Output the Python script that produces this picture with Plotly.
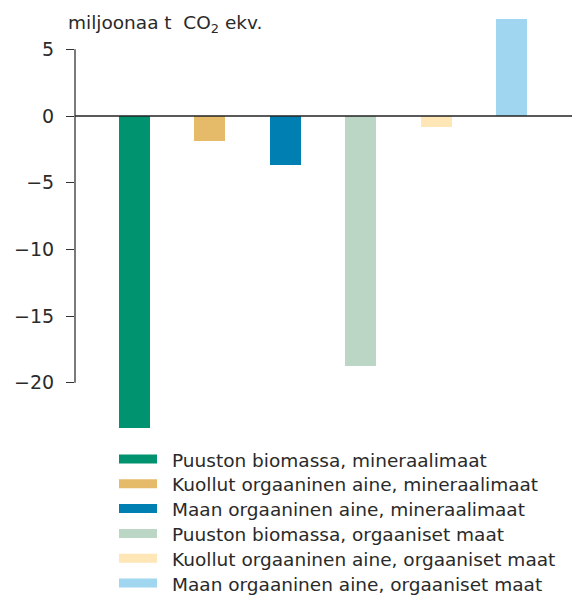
import plotly.graph_objects as go

categories = [
    "Puuston biomassa, mineraalimaat",
    "Kuollut orgaaninen aine, mineraalimaat",
    "Maan orgaaninen aine, mineraalimaat",
    "Puuston biomassa, orgaaniset maat",
    "Kuollut orgaaninen aine, orgaaniset maat",
    "Maan orgaaninen aine, orgaaniset maat",
]
values = [-23.4, -1.9, -3.7, -18.75, -0.8, 7.3]
colors = ["#00936F", "#E5BA68", "#0080B2", "#BBD6C5", "#FEE6B6", "#A0D6F0"]
tick_vals = [5, 0, -5, -10, -15, -20]
y_title = "miljoonaa t  CO<sub>2</sub> ekv."

FONT = "'DejaVu Sans', sans-serif"
TXT = "#2a2a2a"

# page body has an 8px margin; work in reference pixels and shift
OFF = 8
W, H = 580 - OFF, 595 - OFF
ml, mr = 75 - OFF, 0
mt = 10 - OFF
mb = H - (432 - OFF)
pw, ph = W - ml - mr, H - mt - mb


def px(xref_px):
    return (xref_px - OFF - ml) / pw


def py(yref_px):
    return (H - mb - (yref_px - OFF)) / ph


fig = go.Figure()
for i, (c, v, col) in enumerate(zip(categories, values, colors)):
    fig.add_trace(go.Bar(x=[i], y=[v], name=c, marker=dict(color=col, line=dict(width=0)),
                         width=0.41, showlegend=False))

shapes = []
shapes.append(dict(type="line", xref="paper", yref="y", x0=0, x1=0, y0=-20, y1=5,
                   line=dict(color="#333333", width=1.3)))
shapes.append(dict(type="line", xref="paper", yref="y", x0=0, x1=1, y0=0, y1=0,
                   line=dict(color="#222222", width=1.6), layer="above"))

annotations = [dict(text=y_title, xref="paper", yref="paper", x=px(66), y=py(24),
                    xanchor="left", yanchor="middle", showarrow=False,
                    font=dict(family=FONT, size=18.5, color=TXT))]

for i, (c, col) in enumerate(zip(categories, colors)):
    yc = 459 + i * 24.8
    shapes.append(dict(type="rect", xref="paper", yref="paper",
                       x0=px(119), x1=px(157), y0=py(yc - 4.5), y1=py(yc + 4.5),
                       fillcolor=col, line=dict(width=0)))
    annotations.append(dict(text=c, xref="paper", yref="paper", x=px(170), y=py(yc + 1),
                            xanchor="left", yanchor="middle", showarrow=False,
                            font=dict(family=FONT, size=18.5, color=TXT)))

fig.update_layout(
    width=W, height=H,
    margin=dict(l=ml, r=mr, t=mt, b=mb),
    plot_bgcolor="white", paper_bgcolor="white",
    xaxis=dict(range=[-0.789, 5.908], visible=False, fixedrange=True),
    yaxis=dict(range=[-23.7, 7.95], tickvals=tick_vals, showgrid=False, zeroline=False,
               showline=False, ticks="outside", ticklen=8, tickwidth=1.2, tickcolor="#333333",
               ticklabelstandoff=8,
               tickfont=dict(family=FONT, size=19, color=TXT)),
    shapes=shapes, annotations=annotations,
    bargap=0, showlegend=False,
)
fig.write_html("out.html")
